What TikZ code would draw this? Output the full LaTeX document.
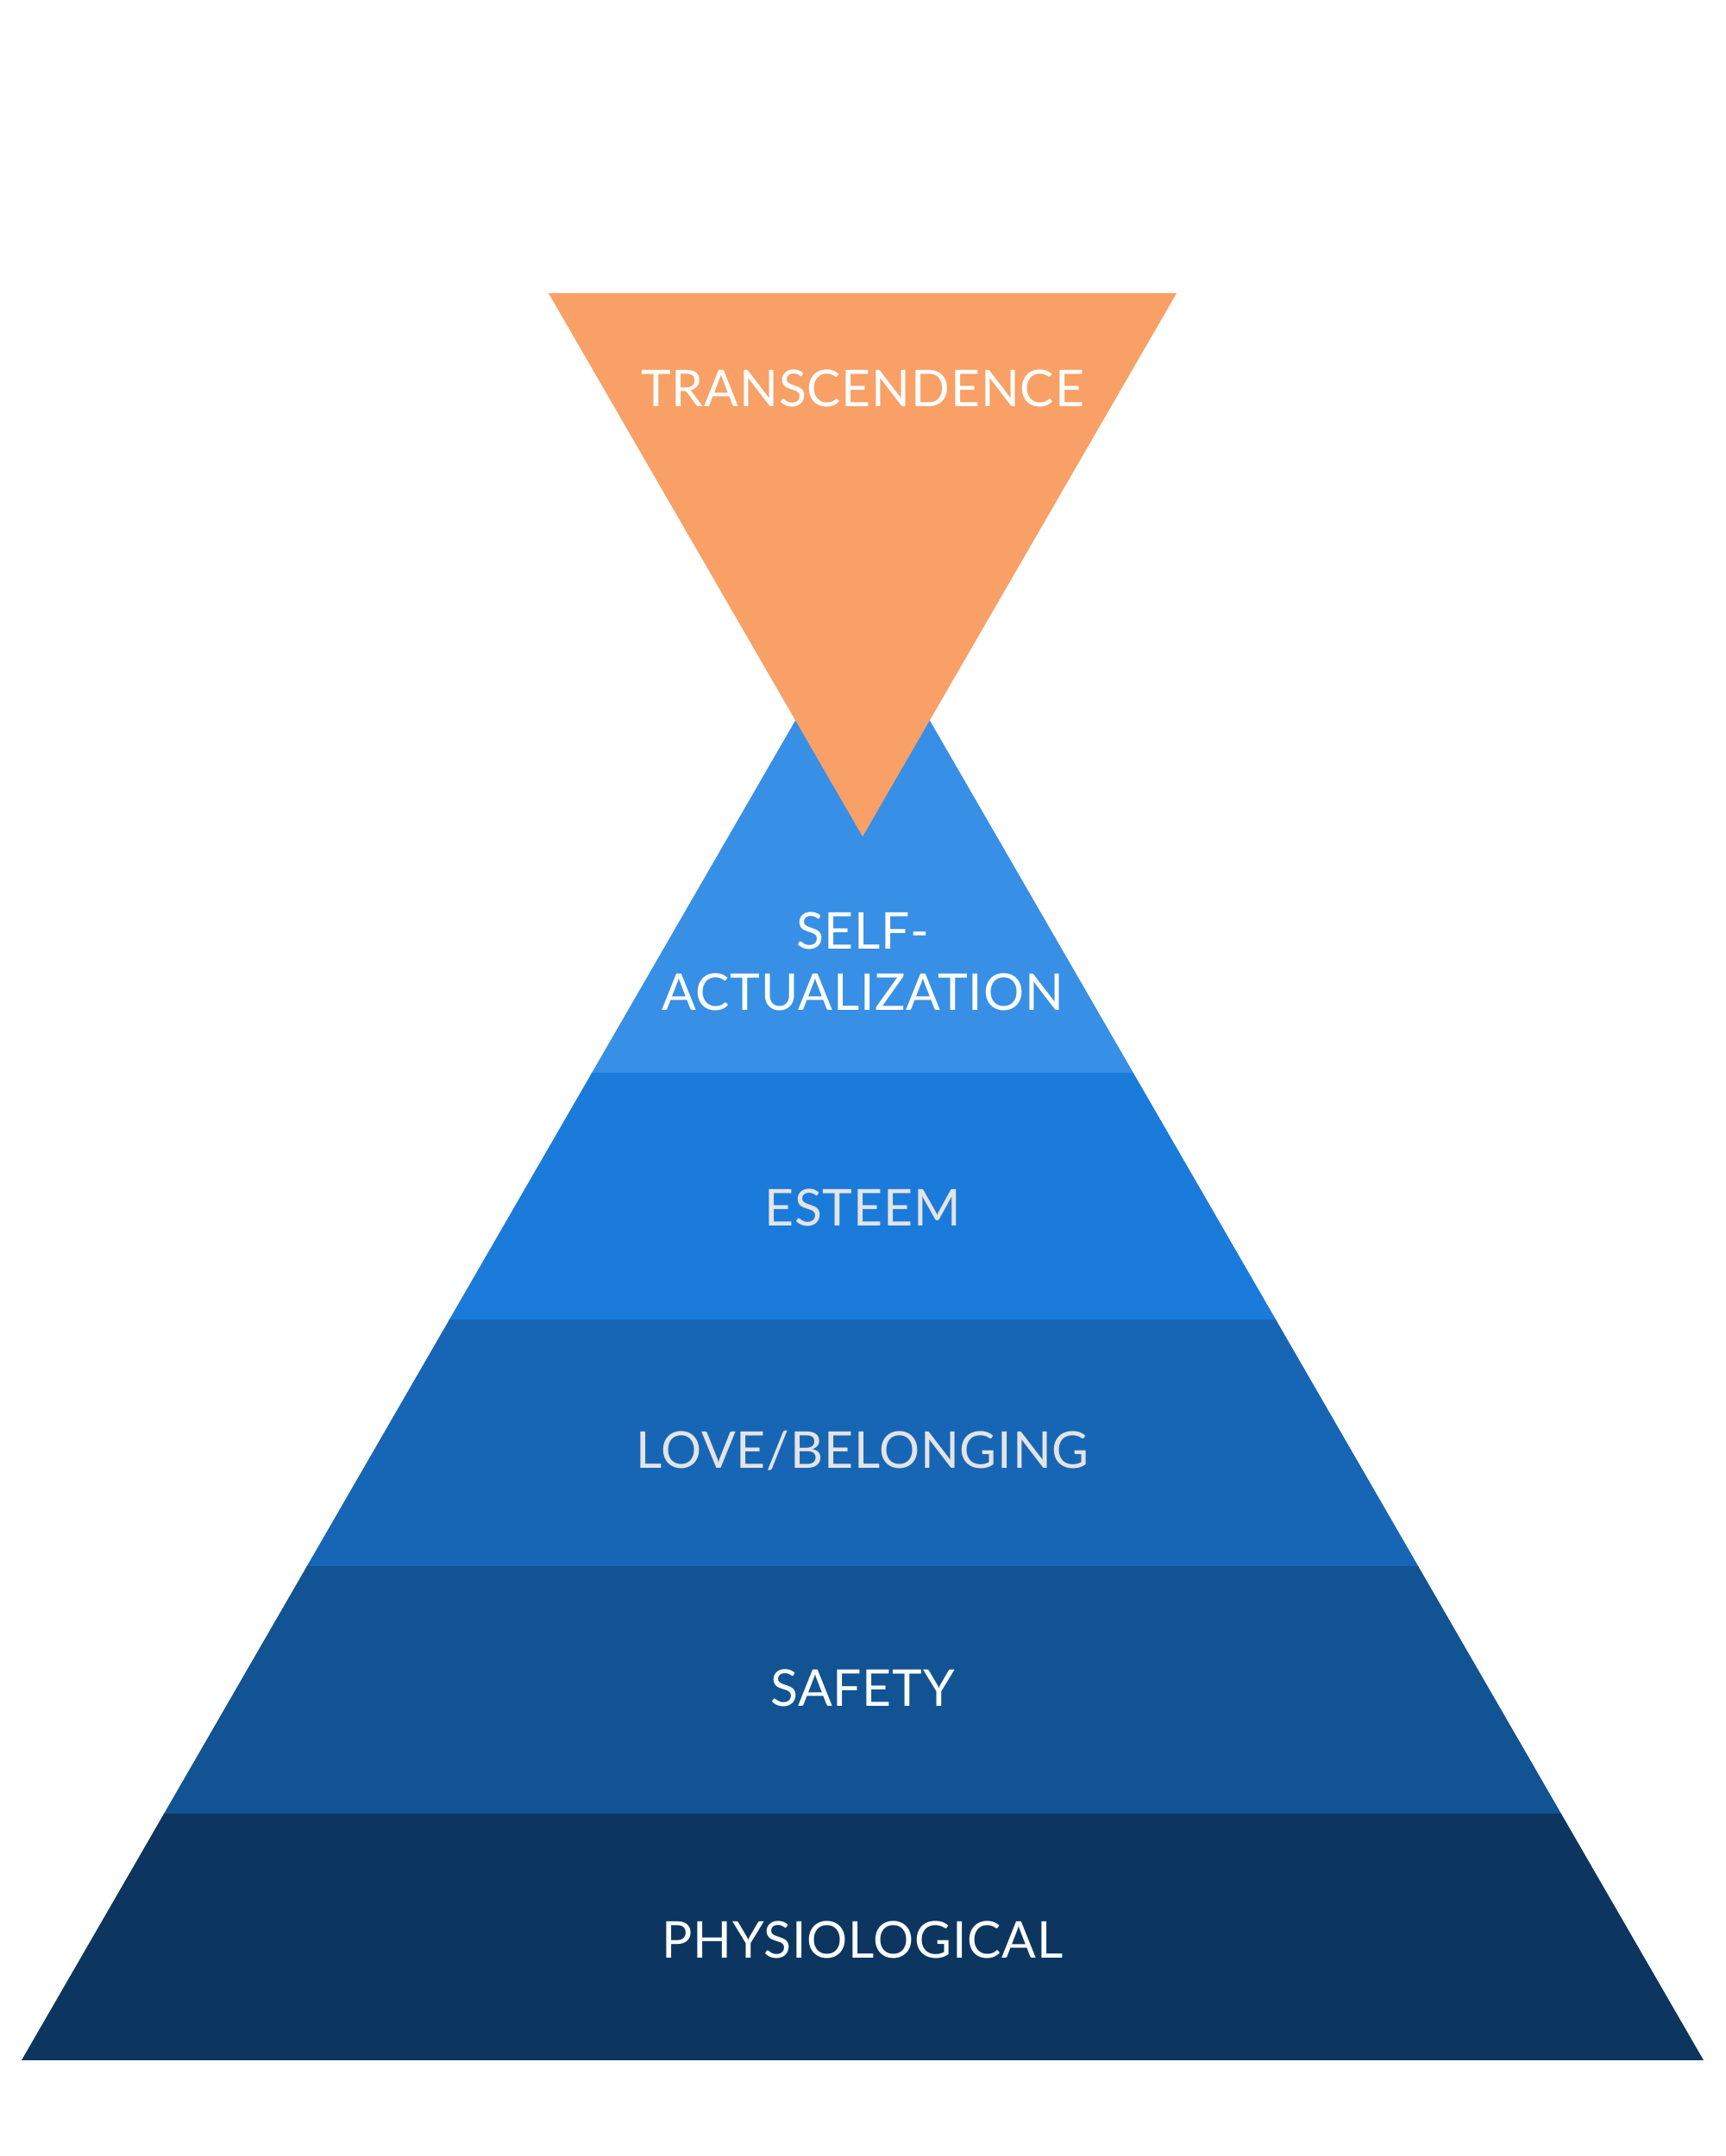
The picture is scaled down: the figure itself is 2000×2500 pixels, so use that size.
\documentclass[tikz,border=0pt]{standalone}
\usepackage{fontspec}
\setmainfont{Lato}[LetterSpace=1.4]
\definecolor{cself}{HTML}{378FE6}
\definecolor{cesteem}{HTML}{1B7BDB}
\definecolor{clove}{HTML}{1766B5}
\definecolor{csafety}{HTML}{115393}
\definecolor{cphys}{HTML}{0C365F}
\definecolor{corange}{HTML}{F8A066}
\definecolor{lightgray}{HTML}{E4E4E4}
\begin{document}
\begin{tikzpicture}[x=0.02cm,y=-0.02cm,
  lbl/.style={font=\fontsize{33.5}{40}\selectfont, text=white, align=center, inner sep=0pt}]
\useasboundingbox (0,0) rectangle (2000,2500);
\fill[white] (0,0) rectangle (2000,2500);
\begin{scope}
  \clip (25,2389) -- (1000,700.5) -- (1975,2389) -- cycle;
  \fill[cself] (0,600) rectangle (2000,1245);
  \fill[cesteem] (0,1244) rectangle (2000,1531);
  \fill[clove] (0,1530) rectangle (2000,1817);
  \fill[csafety] (0,1816) rectangle (2000,2104);
  \fill[cphys] (0,2103) rectangle (2000,2389);
\end{scope}
\fill[corange] (636,340) -- (1364,340) -- (1000,970) -- cycle;
\node[lbl] (trans) at (1000,450) {TRANSCENDENCE};
\node[lbl] (self) at (1000,1115) {SELF-\\ACTUALIZATION};
\node[lbl, text=lightgray] (esteem) at (1000,1400) {ESTEEM};
\node[lbl, text=lightgray] (love) at (1000,1682) {LOVE/BELONGING};
\node[lbl] (safety) at (1000,1957) {SAFETY};
\node[lbl] (phys) at (1000,2249) {PHYSIOLOGICAL};
\end{tikzpicture}
\end{document}
